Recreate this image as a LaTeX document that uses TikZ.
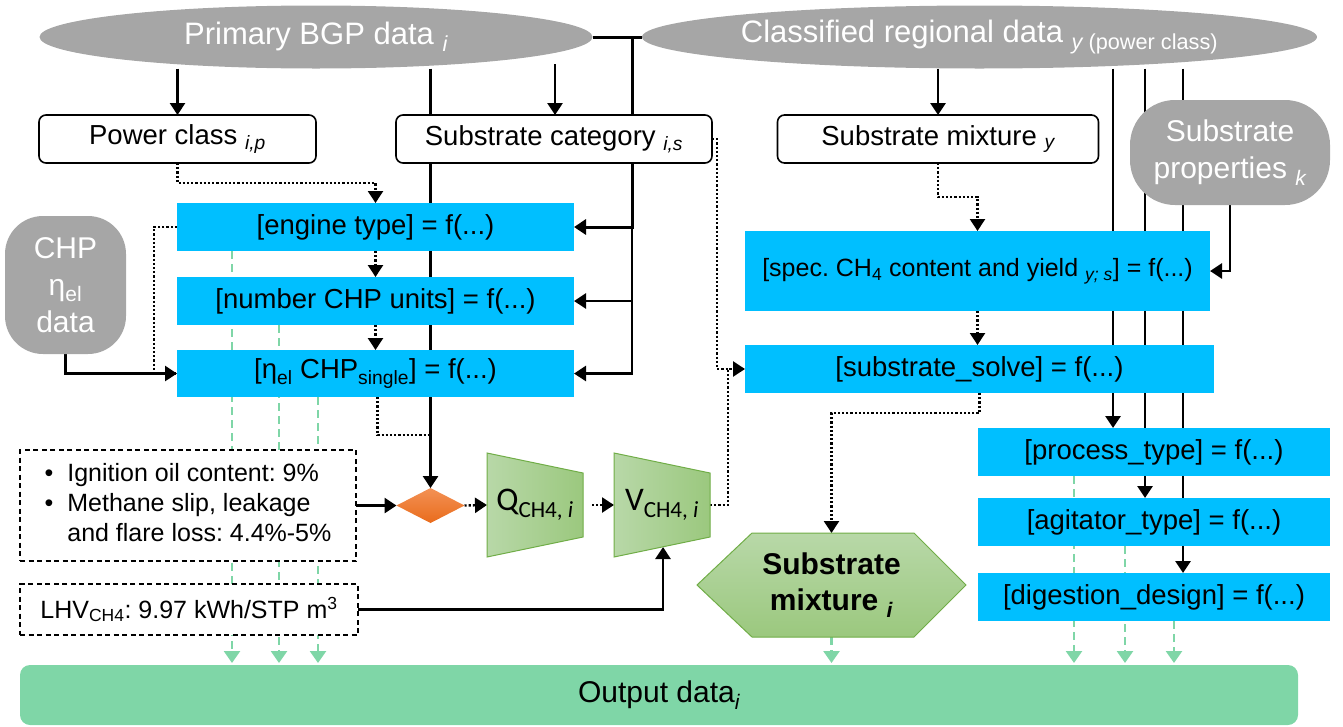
\documentclass[tikz,border=0pt]{standalone}
\usepackage{fontspec}
\setmainfont{Liberation Sans}
\newfontfamily\calfont{Carlito}
\usetikzlibrary{shapes.geometric,arrows.meta,calc}
\pgfdeclarelayer{bg}
\pgfsetlayers{bg,main}
\definecolor{gfill}{RGB}{166,166,166}
\definecolor{bluebox}{RGB}{0,191,255}
\definecolor{outgreen}{RGB}{127,214,167}
\definecolor{tzl}{RGB}{184,216,168}
\definecolor{tzr}{RGB}{155,200,126}
\definecolor{tzb}{RGB}{112,173,71}
\definecolor{orT}{RGB}{243,145,85}
\definecolor{orB}{RGB}{233,108,28}
\tikzset{
 base/.style={inner sep=0pt, outer sep=0pt, align=center},
 grayell/.style={base, ellipse, fill=gfill, text=white, font=\fontsize{31}{37}\selectfont},
 inbox/.style={base, rectangle, rounded corners=7pt, draw=black, line width=1.6pt, fill=white, font=\fontsize{27.5}{33}\selectfont},
 fbox/.style={base, rectangle, fill=bluebox, font=\fontsize{27.5}{33}\selectfont},
 grayblob/.style={base, rectangle, fill=gfill, text=white, font=\fontsize{30}{37}\selectfont},
 dbox/.style={base, rectangle, draw=black, dash pattern=on 5pt off 3.5pt, line width=1.5pt, fill=white, font=\fontsize{25}{30}\selectfont},
 conn/.style={line width=2.8pt, -{Triangle[length=12pt,width=15pt]}},
 thick line/.style={line width=3pt},
 dotc/.style={line width=2.4pt, dash pattern=on 2.2pt off 2pt, -{Triangle[length=12pt,width=15pt]}},
 dotl/.style={line width=2.4pt, dash pattern=on 2.2pt off 2pt},
 gconn/.style={draw=outgreen, line width=2.5pt, dash pattern=on 8pt off 5pt, -{Triangle[length=12pt,width=16pt]}, color=outgreen, shorten >=2pt},
}
\begin{document}
\frenchspacing
\begin{tikzpicture}[x=1pt,y=-1pt]
\useasboundingbox (0,0) rectangle (1343,726);

% data sources
\node[grayell, minimum width=553pt, minimum height=63pt] (prim) at (316,37) {Primary BGP data \textsubscript{\itshape i}};
\node[grayell, minimum width=635pt, minimum height=63pt] (clas) at (979.5,37) {Classified regional data \textsubscript{\itshape y\upshape\ (power class)}};

\node[inbox, minimum width=277pt, minimum height=48pt] (pow) at (177.5,139) {Power class \textsubscript{\itshape i,p}};
\node[inbox, minimum width=316pt, minimum height=48pt] (cat) at (554,139) {Substrate category \textsubscript{\itshape i,s}};
\node[inbox, minimum width=321pt, minimum height=48pt] (mixy) at (938,139) {Substrate mixture \textsubscript{\itshape y}};
\node[grayblob, rounded corners=45pt, minimum width=200pt, minimum height=105pt] (prop) at (1230,152.5) {Substrate\\properties \textsubscript{\itshape k}};
\node[grayblob, rounded corners=38pt, minimum width=121pt, minimum height=138pt] (chp) at (65.5,285) {CHP\\η\textsubscript{el}\\data};

% function boxes
\node[fbox, minimum width=397pt, minimum height=48pt] (eng) at (375.5,227) {[engine type] = f(...)};
\node[fbox, minimum width=397pt, minimum height=48pt] (num) at (375.5,301) {[number CHP units] = f(...)};
\node[fbox, minimum width=397pt, minimum height=47pt] (eta) at (375.5,373.5) {[η\textsubscript{el} CHP\textsubscript{single}] = f(...)};
\node[fbox, minimum width=465pt, minimum height=80pt, font=\fontsize{25}{30}\selectfont] (spec) at (977.5,271) {[spec. CH\textsubscript{4} content and yield \textsubscript{\itshape y; s}] = f(...)};
\node[fbox, minimum width=469pt, minimum height=48pt] (solve) at (979.5,369) {[substrate\_solve] = f(...)};
\node[fbox, minimum width=352pt, minimum height=48pt] (proc) at (1154,452) {[process\_type] = f(...)};
\node[fbox, minimum width=352pt, minimum height=48pt] (agit) at (1154,522) {[agitator\_type] = f(...)};
\node[fbox, minimum width=352pt, minimum height=48pt] (dig) at (1154,597) {[digestion\_design] = f(...)};

% assumption boxes
\node[dbox, minimum width=336pt, minimum height=111pt] (ign) at (188,505.5) {\begin{tabular}{@{}l@{\hspace{14pt}}l@{}}•&Ignition oil content: 9\%\\ •&Methane slip, leakage\\ &and flare loss: 4.4\%-5\%\end{tabular}};
\node[dbox, minimum width=338pt, minimum height=51pt] (lhv) at (189,609.5) {LHV\textsubscript{CH4}: 9.97 kWh/STP m\textsuperscript{3}};

% diamond and trapezoids
\node[diamond, aspect=1.94, minimum width=68pt, minimum height=35pt, inner sep=0pt, outer sep=0pt, top color=orT, bottom color=orB] (dia) at (430.5,505.5) {};
\shade[left color=tzl, right color=tzr, draw=tzb, line width=1pt] (487,453) -- (583,473) -- (583,537) -- (487,557) -- cycle;
\node[base, minimum width=96pt, minimum height=104pt, font=\calfont\fontsize{33}{33}\selectfont] (q) at (535,505) {Q\textsubscript{CH4, \itshape i}};
\shade[left color=tzl, right color=tzr, draw=tzb, line width=1pt] (614,453) -- (710,473) -- (710,537) -- (614,557) -- cycle;
\node[base, minimum width=96pt, minimum height=104pt, font=\calfont\fontsize{33}{33}\selectfont] (v) at (662,505) {V\textsubscript{CH4, \itshape i}};

% hexagon
\shade[top color=tzl, bottom color=tzr, draw=tzb, line width=1pt] (697,585) -- (752,533) -- (914,533) -- (966,585) -- (914,637) -- (752,637) -- cycle;
\node[base, minimum width=269pt, minimum height=104pt, font=\bfseries\fontsize{30}{36}\selectfont] (hex) at (831.5,585) {Substrate\\mixture \textsubscript{\itshape i}};

% output
\node[base, rounded corners=10pt, fill=outgreen, minimum width=1278pt, minimum height=60pt, font=\fontsize{30}{36}\selectfont] (out) at (659,695) {Output data\textsubscript{\itshape i}};

% helper coordinates
\coordinate (j1) at (632,37);
\coordinate (p2) at (555,64);
\coordinate (p3) at (430.5,68.5);
\coordinate (p4) at (430.5,435);
\coordinate (vb) at (663,547);
\coordinate (c1) at (938,68.5);
\coordinate (c2) at (1113,68.5);
\coordinate (c3) at (1145,68.5);
\coordinate (c4) at (1183,68.5);
\coordinate (gx1) at (232,0);
\coordinate (gx2) at (279,0);
\coordinate (gx3) at (318,0);
\coordinate (gx4) at (831.5,0);
\coordinate (gx5) at (1074,0);
\coordinate (gx6) at (1125,0);
\coordinate (gx7) at (1174,0);

\begin{pgfonlayer}{bg}
\draw[thick line] (prim.east) -- (clas.west);
\draw[conn, line width=3pt] (j1) |- (eng.east);
\draw[conn] (j1) |- (num.east);
\draw[conn] (j1) |- (eta.east);
\draw[conn] (pow.north |- prim.south) -- (pow.north);
\draw[conn] (p2) -- (p2 |- cat.north);
\draw[conn] (p3) -- (dia.north);
\draw[dotc] (pow.south) -- ++(0,20) -| (eng.north);
\draw[dotc] (eng.south) -- (num.north);
\draw[dotc] (num.south) -- (eta.north);
\draw[dotl] (eng.west) -- ++(-23,0) |- (eta.west);
\draw[conn] (chp.south) |- (eta.west);
\draw[dotl] ([xshift=2pt]eta.south) |- (p4);
\draw[conn] (ign.east) -- (dia.west);
\draw[dotc] (dia.east) -- (q.west);
\draw[dotc] ([xshift=9pt]q.east) -- (v.west);
\draw[dotc] (cat.east) -- ++(5,0) |- (solve.west);
\draw[dotl] (v.east) -- ++(18,0) |- (solve.west);
\draw[conn] (lhv.east) -| (vb);
\draw[conn] (c1) -- (c1 |- mixy.north);
\draw[dotc] (mixy.south) -- ++(0,34) -| (spec.north);
\draw[dotc] (spec.south) -- (spec.south |- solve.north);
\draw[dotc] (solve.south) -- ++(0,20) -| (hex.north);
\draw[conn] (prop.south) |- (spec.east);
\draw[conn] (c2) -- (c2 |- proc.north);
\draw[conn] (c3) -- (c3 |- agit.north);
\draw[conn] (c4) -- (c4 |- dig.north);
\draw[gconn] (gx1 |- eng.south) -- (gx1 |- out.north);
\draw[gconn] (gx2 |- num.south) -- (gx2 |- out.north);
\draw[gconn] (gx3 |- eta.south) -- (gx3 |- out.north);
\draw[gconn] (gx4 |- hex.south) -- (gx4 |- out.north);
\draw[gconn] (gx5 |- proc.south) -- (gx5 |- out.north);
\draw[gconn] (gx6 |- agit.south) -- (gx6 |- out.north);
\draw[gconn] (gx7 |- dig.south) -- (gx7 |- out.north);
\end{pgfonlayer}
\end{tikzpicture}
\end{document}
